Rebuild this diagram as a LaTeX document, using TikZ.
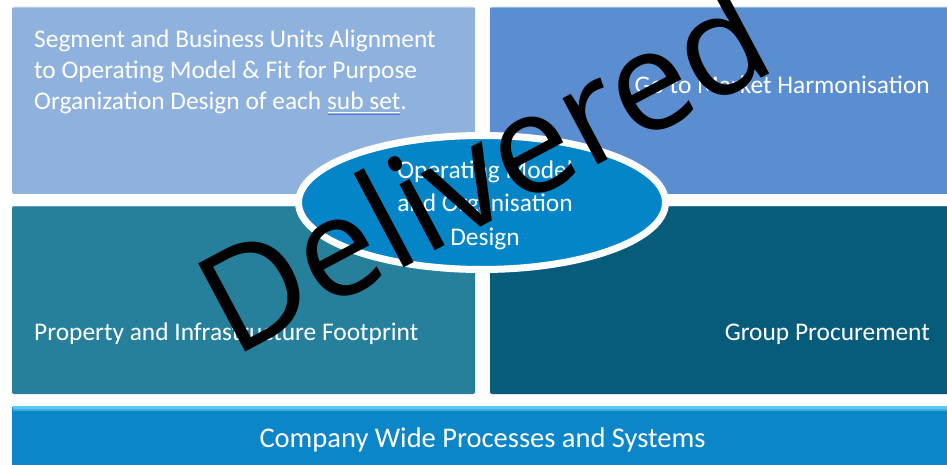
\documentclass[tikz,border=0pt]{standalone}
\usepackage{fontspec}
\usetikzlibrary{shapes.geometric}
\setmainfont{Carlito}
\newfontfamily\stampfont{Open Sans}
\definecolor{tlfill}{HTML}{8FB1DD}
\definecolor{trfill}{HTML}{5A8ED0}
\definecolor{blfill}{HTML}{26809B}
\definecolor{brfill}{HTML}{085C7B}
\definecolor{barfill}{HTML}{0B86C8}
\definecolor{barlight}{HTML}{5CCBF4}
\definecolor{ellfill}{HTML}{0385C8}
\definecolor{spellblue}{HTML}{4F7BE0}
\begin{document}
\begin{tikzpicture}[x=1pt,y=-1pt,
  panel/.style={rectangle, rounded corners=2pt, inner sep=0pt, outer sep=0pt},
  lbl/.style={text=white, font=\fontsize{25.4}{31}\selectfont, inner sep=0pt},
  stamp/.style={font=\stampfont\fontsize{140}{140}\selectfont, text=black, inner sep=0pt}]
\useasboundingbox (0,0) rectangle (947,465);
\fill[white] (0,0) rectangle (947,465);

% four quadrant panels and the bottom bar
\node[panel, fill=tlfill, minimum width=463, minimum height=187] (seg) at (243.5,100.5) {};
\node[panel, fill=trfill, minimum width=470, minimum height=187] (gtm) at (725,100.5) {};
\node[panel, fill=blfill, minimum width=463, minimum height=188] (prop) at (243.5,300) {};
\node[panel, fill=brfill, minimum width=470, minimum height=188] (proc) at (725,300) {};
\node[panel, fill=barfill, minimum width=948, minimum height=70] (bar) at (486,441) {};

% bevel highlights along the upper edges
\draw[white, opacity=0.35, line width=1.2] ([xshift=1pt,yshift=-0.8pt]seg.north west) -- ([xshift=-1pt,yshift=-0.8pt]seg.north east);
\draw[white, opacity=0.35, line width=1.2] ([xshift=1pt,yshift=-0.8pt]gtm.north west) -- ([yshift=-0.8pt]gtm.north east);
\draw[white, opacity=0.25, line width=1.2] ([xshift=1pt,yshift=-0.8pt]prop.north west) -- ([xshift=-1pt,yshift=-0.8pt]prop.north east);
\draw[white, opacity=0.2, line width=1.2] ([xshift=1pt,yshift=-0.8pt]proc.north west) -- ([yshift=-0.8pt]proc.north east);
\fill[barlight] ([xshift=1pt]bar.north west) rectangle ([yshift=-2.5pt]bar.north east);
\fill[barlight!60!barfill] ([xshift=1pt,yshift=-2.5pt]bar.north west) rectangle ([yshift=-5pt]bar.north east);

% panel captions (base anchor sits on the last line)
\node[lbl, anchor=base west, align=left] (segtxt) at (34,110)
  {Segment and Business Units Alignment\\to Operating Model \& Fit for Purpose\\Organization Design of each sub set.};
\draw[white, line width=0.9] (328,112.6) -- (400,112.6);
\draw[spellblue, line width=1.1] (328,114.8) -- (400,114.8);
\node[lbl, anchor=base east] (gtmtxt) at (930,94) {Go to Market Harmonisation};
\node[lbl, anchor=base west] (proptxt) at (34,340) {Property and Infrastructure Footprint};
\node[lbl, anchor=base east] (proctxt) at (930,340) {Group Procurement};
\node[lbl, anchor=base, font=\fontsize{28.5}{34}\selectfont] (bartxt) at (482.5,447) {Company Wide Processes and Systems};

% central ellipse
\node[ellipse, draw=white, line width=7, fill=ellfill, minimum width=367, minimum height=134] (core) at (482,202.5) {};
\node[lbl, anchor=base, align=center, font=\fontsize{25.4}{33.5}\selectfont] (coretxt) at (485,245)
  {Operating Model\\and Organisation\\Design};

% stamp across the whole chart
\node[stamp, rotate=28, anchor=base] (stamp) at (507,213) {Delivered};
\end{tikzpicture}
\end{document}
